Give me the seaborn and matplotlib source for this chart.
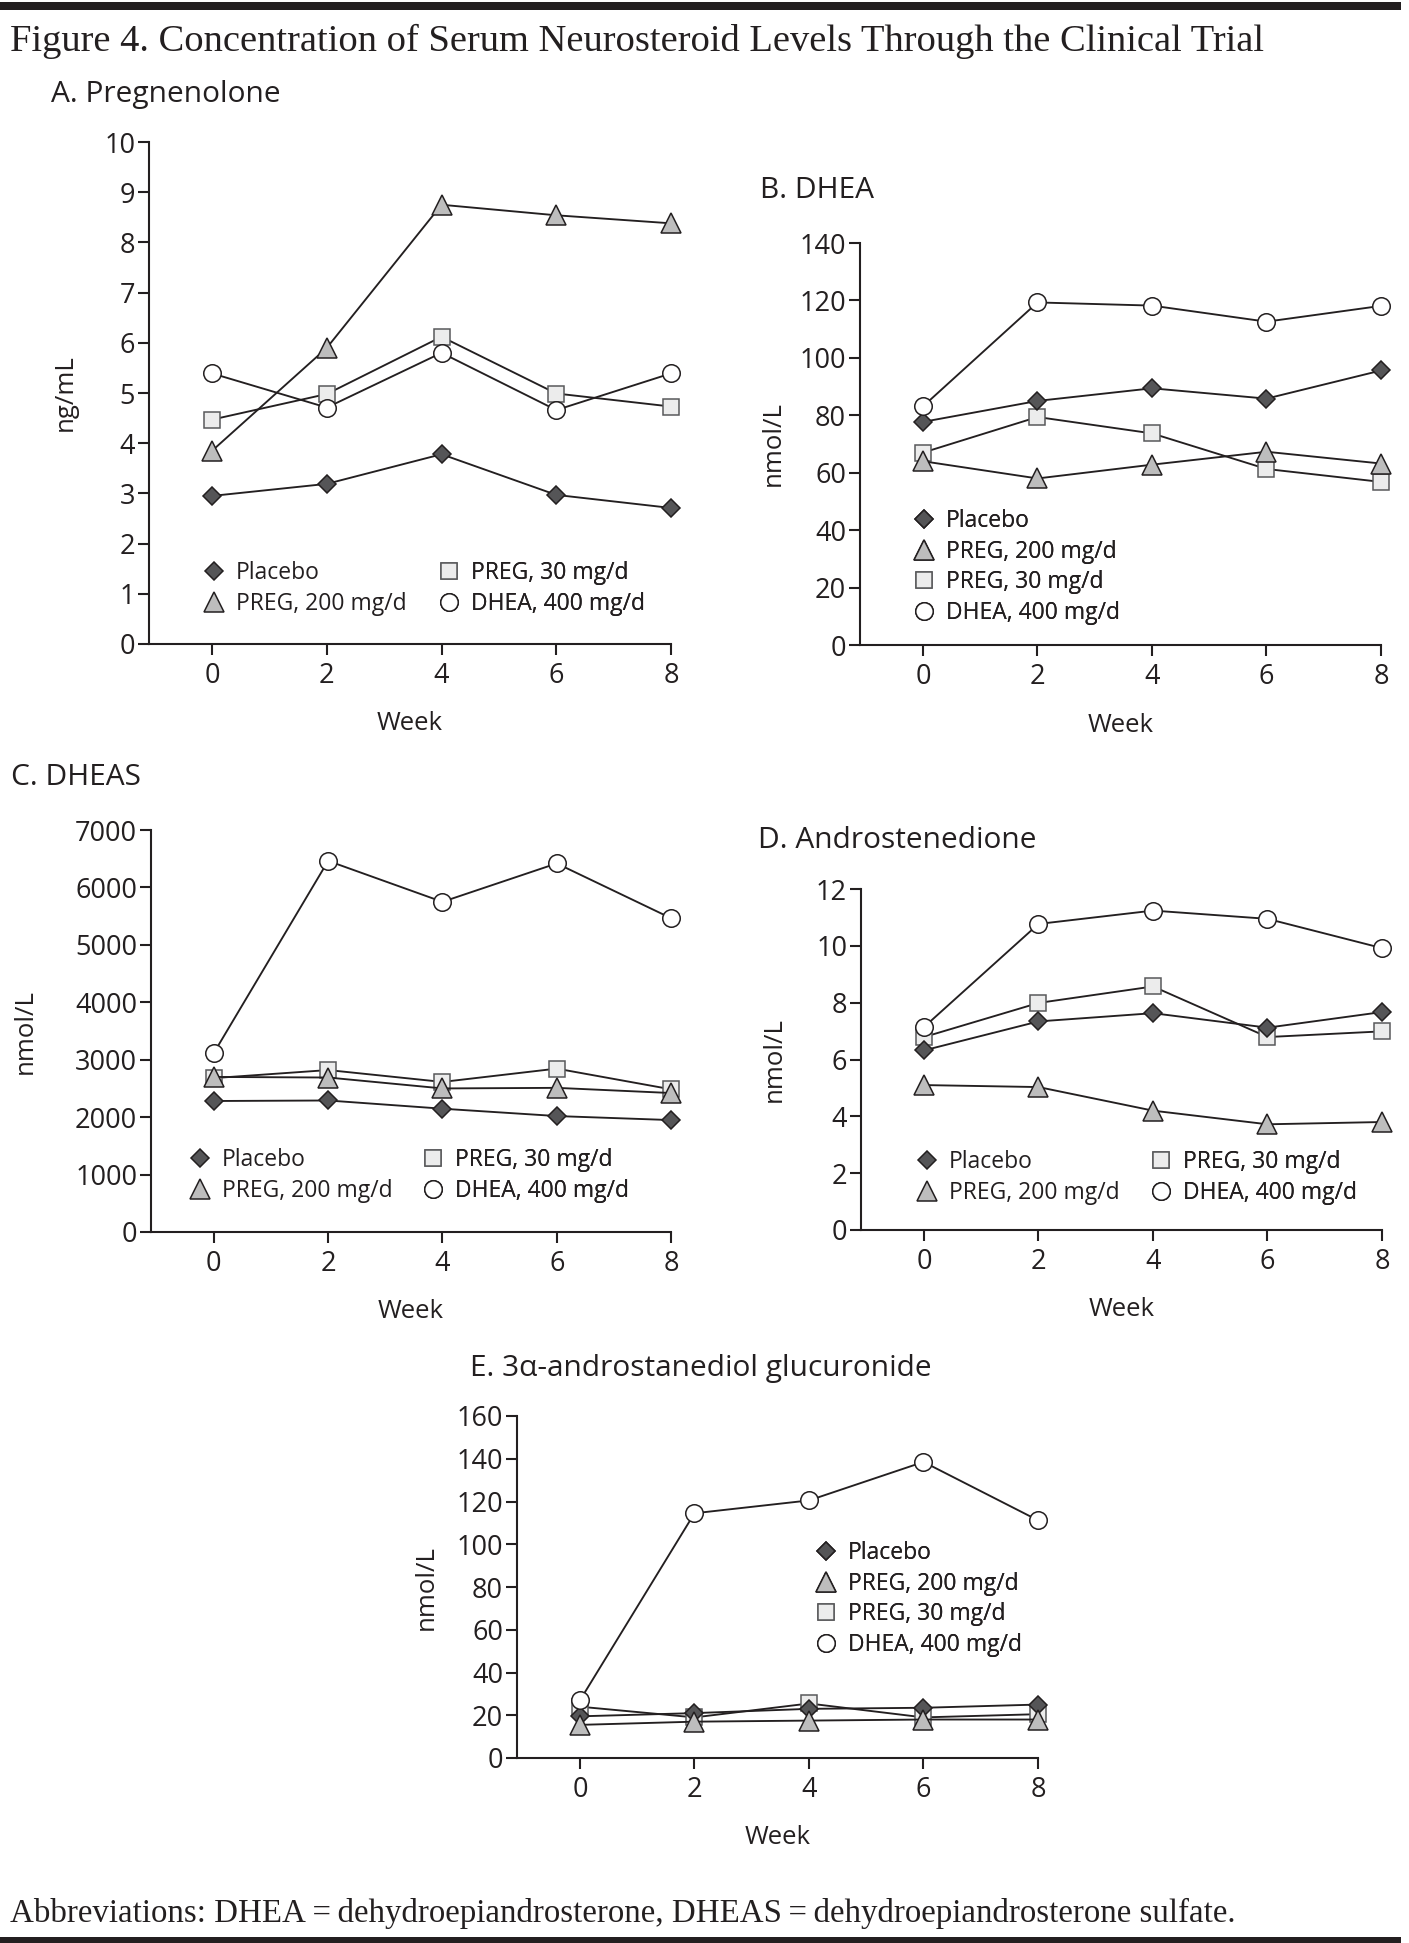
import numpy as np
import pandas as pd
import seaborn as sns
import matplotlib
matplotlib.use("Agg")
import matplotlib.pyplot as plt
from matplotlib.lines import Line2D
from matplotlib.patches import Rectangle

# ---------------- data ----------------
weeks = [0, 2, 4, 6, 8]
groups = ["Placebo", "PREG, 200 mg/d", "PREG, 30 mg/d", "DHEA, 400 mg/d"]

preg_placebo = [2.95, 3.19, 3.78, 2.97, 2.71]
preg_preg200 = [3.85, 5.90, 8.75, 8.54, 8.38]
preg_preg30 = [4.47, 4.98, 6.12, 4.99, 4.73]
preg_dhea = [5.39, 4.71, 5.80, 4.66, 5.39]

dhea_placebo = [77.7, 85.0, 89.4, 85.8, 95.6]
dhea_preg200 = [64.0, 58.0, 62.8, 67.3, 63.2]
dhea_preg30 = [67.0, 79.4, 73.7, 61.3, 56.8]
dhea_dhea = [83.1, 119.3, 118.2, 112.6, 118.1]

dheas_placebo = [2281, 2290, 2147, 2019, 1949]
dheas_preg200 = [2700, 2690, 2500, 2510, 2420]
dheas_preg30 = [2680, 2820, 2613, 2845, 2485]
dheas_dhea = [3118, 6462, 5749, 6418, 5465]

andro_placebo = [6.32, 7.34, 7.63, 7.12, 7.67]
andro_preg200 = [5.10, 5.03, 4.20, 3.72, 3.80]
andro_preg30 = [6.79, 7.99, 8.57, 6.79, 6.99]
andro_dhea = [7.14, 10.77, 11.24, 10.95, 9.92]

adg_placebo = [19.5, 21.0, 23.0, 23.5, 25.0]
adg_preg200 = [15.5, 17.0, 17.5, 18.0, 18.0]
adg_preg30 = [24.0, 19.0, 25.5, 19.0, 20.5]
adg_dhea = [27.0, 114.5, 120.5, 138.5, 111.2]

y_ticks_a = [0, 1, 2, 3, 4, 5, 6, 7, 8, 9, 10]
y_ticks_b = [0, 20, 40, 60, 80, 100, 120, 140]
y_ticks_c = [0, 1000, 2000, 3000, 4000, 5000, 6000, 7000]
y_ticks_d = [0, 2, 4, 6, 8, 10, 12]
y_ticks_e = [0, 20, 40, 60, 80, 100, 120, 140, 160]

title_text = "Figure 4. Concentration of Serum Neurosteroid Levels Through the Clinical Trial"
foot_text = "Abbreviations: DHEA\u2009=\u2009dehydroepiandrosterone, DHEAS\u2009=\u2009dehydroepiandrosterone sulfate."

# ---------------- style ----------------
sns.set_theme(style="ticks")
plt.rcParams["font.family"] = ["Open Sans", "DejaVu Sans"]
INK = "#231f20"

STY = {
    "Placebo": dict(marker="D", markersize=9.6, markerfacecolor="#555557", markeredgecolor=INK),
    "PREG, 200 mg/d": dict(marker="^", markersize=14.8, markerfacecolor="#bdbdbd", markeredgecolor=INK),
    "PREG, 30 mg/d": dict(marker="s", markersize=12.2, markerfacecolor="#ececec", markeredgecolor="#58595b"),
    "DHEA, 400 mg/d": dict(marker="o", markersize=12.6, markerfacecolor="white", markeredgecolor=INK),
}
DRAW_ORDER = ["PREG, 30 mg/d", "Placebo", "PREG, 200 mg/d", "DHEA, 400 mg/d"]

W, H = 1409, 1943
fig = plt.figure(figsize=(W / 100, H / 100), dpi=100)
fig.patch.set_facecolor("white")

TICK_FS = 19.5
LEG_FS = 16.5
LAB_FS = 18.5
PTITLE_FS = 21.5
HL, HTP, LS = 1.0, 0.45, 0.3


def px_axes(l, t, r, b):
    return fig.add_axes([l / W, 1 - b / H, (r - l) / W, (b - t) / H])


def add_legend(ax, names, x_marker_px, y_center_px):
    fs_px = LEG_FS * 100 / 72
    handles = [Line2D([], [], ls="none", markeredgewidth=1.1, **STY[n]) for n in names]
    leg = ax.legend(handles, names, loc="center left",
                    bbox_to_anchor=((x_marker_px - 0.5 * HL * fs_px) / W, 1 - y_center_px / H),
                    bbox_transform=fig.transFigure, frameon=False, borderpad=0,
                    borderaxespad=0, handlelength=HL, handletextpad=HTP,
                    labelspacing=LS, fontsize=LEG_FS, labelcolor=INK)
    ax.add_artist(leg)


panels = [
    dict(rect=(149, 142, 671, 644), data=[preg_placebo, preg_preg200, preg_preg30, preg_dhea],
         yticks=y_ticks_a, ylabel="ng/mL", ylab_off=-84, title="A. Pregnenolone", tpos=(51, 102),
         legends=[(groups[0:2], 214, 588.5), (groups[2:4], 449, 588.5)]),
    dict(rect=(860, 243, 1381, 645), data=[dhea_placebo, dhea_preg200, dhea_preg30, dhea_dhea],
         yticks=y_ticks_b, ylabel="nmol/L", ylab_off=-87, title="B. DHEA", tpos=(760, 198),
         legends=[(groups, 924, 567)]),
    dict(rect=(151, 830, 671, 1232), data=[dheas_placebo, dheas_preg200, dheas_preg30, dheas_dhea],
         yticks=y_ticks_c, ylabel="nmol/L", ylab_off=-126, title="C. DHEAS", tpos=(11, 785),
         legends=[(groups[0:2], 200, 1175.5), (groups[2:4], 433, 1175.5)]),
    dict(rect=(861, 889, 1382, 1230), data=[andro_placebo, andro_preg200, andro_preg30, andro_dhea],
         yticks=y_ticks_d, ylabel="nmol/L", ylab_off=-87, title="D. Androstenedione", tpos=(758, 848),
         legends=[(groups[0:2], 927, 1177.5), (groups[2:4], 1161, 1177.5)]),
    dict(rect=(517, 1416, 1038, 1758), data=[adg_placebo, adg_preg200, adg_preg30, adg_dhea],
         yticks=y_ticks_e, ylabel="nmol/L", ylab_off=-91, title="E. 3\u03b1-androstanediol glucuronide",
         tpos=(470, 1376), legends=[(groups, 826, 1599)]),
]

for p in panels:
    l, t, r, b = p["rect"]
    ax = px_axes(l, t, r, b)
    series = dict(zip(groups, p["data"]))
    for z, name in enumerate(DRAW_ORDER):
        sns.lineplot(x=weeks, y=series[name], ax=ax, color=INK, linewidth=1.35,
                     markeredgewidth=1.1, clip_on=False, zorder=3 + z, legend=False,
                     **STY[name])
    ax.set_xlim(-1.1, 8)
    ax.set_ylim(p["yticks"][0], p["yticks"][-1])
    ax.set_xticks(weeks)
    ax.set_yticks(p["yticks"])
    ax.set_xticklabels([str(w) for w in weeks])
    ax.set_yticklabels([str(v) for v in p["yticks"]])
    sns.despine(ax=ax)
    for s in ("left", "bottom"):
        ax.spines[s].set_linewidth(1.5)
        ax.spines[s].set_color(INK)
    ax.tick_params(axis="both", labelsize=TICK_FS, length=8, width=1.5,
                   color=INK, labelcolor=INK, direction="out")
    ax.tick_params(axis="x", pad=5)
    ax.tick_params(axis="y", pad=2)
    ax.set_xlabel("Week", fontsize=LAB_FS, color=INK)
    ax.set_ylabel(p["ylabel"], fontsize=LAB_FS, color=INK)
    wpx, hpx = r - l, b - t
    ax.xaxis.set_label_coords(0.5, -80 / hpx)
    ax.xaxis.label.set_va("center")
    ax.yaxis.set_label_coords(p["ylab_off"] / wpx, 0.5)
    ax.yaxis.label.set_va("center")
    ax.set_facecolor("none")
    for names, xm, yc in p["legends"]:
        add_legend(ax, names, xm, yc)
    tx, ty = p["tpos"]
    fig.text(tx / W, 1 - ty / H, p["title"], fontsize=PTITLE_FS, color=INK,
             ha="left", va="baseline")

# title / footnote (serif)
serif = ["Liberation Serif", "DejaVu Serif"]
t_title = fig.text(10 / W, 1 - 51 / H, title_text, family=serif, fontsize=24, color=INK,
                   ha="left", va="baseline")
t_foot = fig.text(10 / W, 1 - 1922 / H, foot_text, family=serif, fontsize=20, color=INK,
                  ha="left", va="baseline")

fig.canvas.draw()
rend = fig.canvas.get_renderer()
for t, target in ((t_title, 1253), (t_foot, 1223)):
    w = t.get_window_extent(rend).width
    t.set_fontsize(t.get_fontsize() * target / w)

# rules at top and bottom
fig.add_artist(Rectangle((0, 1 - 10 / H), 1401 / W, 8.5 / H, transform=fig.transFigure,
                         facecolor=INK, edgecolor="none"))
fig.add_artist(Rectangle((0, 0), 1401 / W, 6 / H, transform=fig.transFigure,
                         facecolor=INK, edgecolor="none"))

fig.savefig("out.png", dpi=100)
